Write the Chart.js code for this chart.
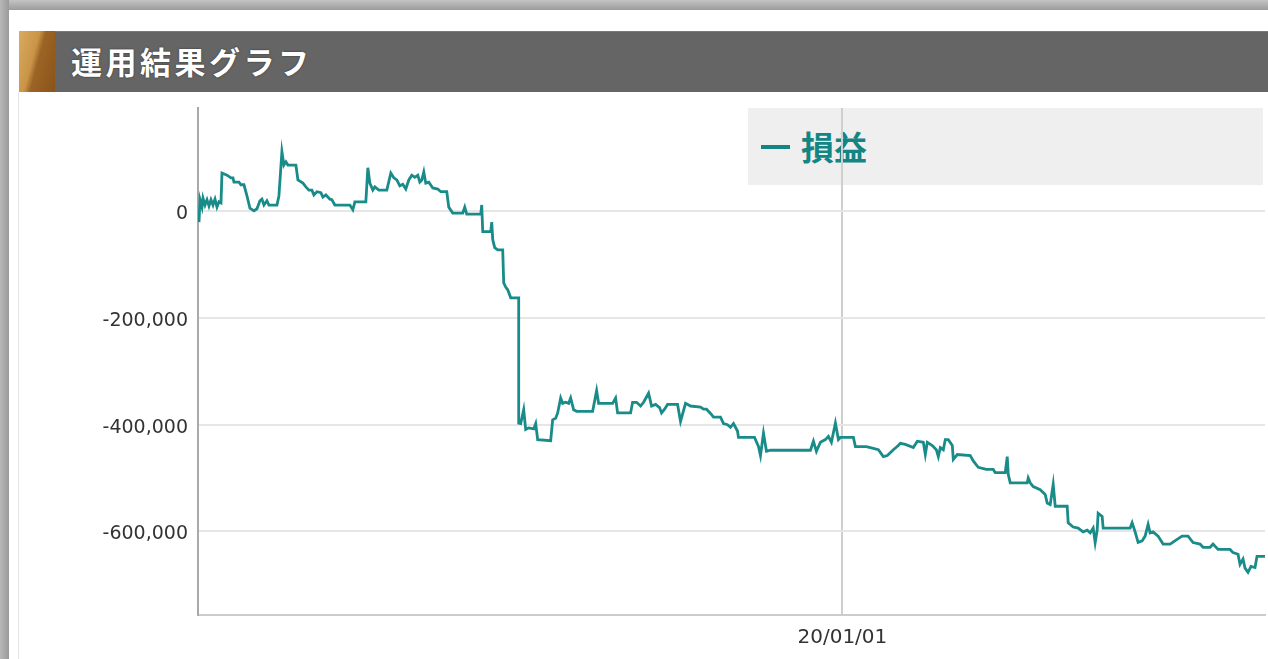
<!DOCTYPE html>
<html>
<head>
<meta charset="utf-8">
<script src="https://cdn.jsdelivr.net/npm/chart.js@4/dist/chart.umd.min.js"></script>
<style>
  html, body { margin: 0; padding: 0; }
  body { width: 1268px; height: 659px; overflow: hidden; position: relative; background: #ffffff; }
  #frameTop { position: absolute; left: 0; top: 0; width: 1268px; height: 10px; background: linear-gradient(#c4c4c4, #9c9c9c); }
  #frameLeft { position: absolute; left: 0; top: 0; width: 9px; height: 659px; background: linear-gradient(to right, #b8b8b8, #9a9a9a); }
  #cardLine { position: absolute; left: 18px; top: 92px; width: 1px; height: 567px; background: #e4e4e4; }
  #header { position: absolute; left: 19px; top: 31px; width: 1260px; height: 61px; background: #656565; border-top: 1px solid #7a7a7a; box-sizing: border-box; }
  #badge { position: absolute; left: 19px; top: 31px; width: 36px; height: 61px;
           background: linear-gradient(105deg, #d9ab62 0%, #c99447 40%, #9c6424 52%, #8a541a 100%); }
  #title { position: absolute; left: 71px; top: 31px; height: 61px; line-height: 59px; color: #ffffff;
           font-family: "Noto Sans CJK JP", sans-serif; font-weight: bold; font-size: 31px; letter-spacing: 3.5px;
           text-shadow: 0 0 2px rgba(0,0,0,0.6); }
  #legendBox { position: absolute; left: 748px; top: 108px; width: 515px; height: 77px; background: #efefef; z-index: 0; }
  #legendMark { position: absolute; left: 13px; top: 37px; width: 29px; height: 4px; background: #138585; }
  #legendText { position: absolute; left: 53px; top: 0; height: 77px; line-height: 76px; color: #138585;
                font-family: "Noto Sans CJK JP", sans-serif; font-weight: bold; font-size: 33px; }
  #wrap { position: absolute; left: 90px; top: 100px; width: 1178px; height: 559px; z-index: 1; }
</style>
</head>
<body>
<div id="frameTop"></div>
<div id="frameLeft"></div>
<div id="cardLine"></div>
<div id="header"></div>
<div id="badge"></div>
<div id="title">運用結果グラフ</div>
<div id="legendBox"><div id="legendMark"></div><div id="legendText">損益</div></div>
<div id="wrap"><canvas id="c" width="1178" height="559"></canvas></div>
<script>
// Data: time in days since 2019-01-01, profit/loss in thousands of yen
const seriesName = '損益';
const dayOffsets = [
  43, 43.5, 44.5, 45, 46, 47, 48, 49, 50, 51,
  52, 53, 54, 54.5, 57, 59, 60, 60.5, 63, 64,
  65.5, 67, 68.5, 70.5, 72, 73.5, 74.5, 75.5, 77, 78,
  82, 83, 84.5, 85.5, 86.5, 87.5, 91.5, 92.5, 95, 96.5,
  98, 99.5, 100.5, 102, 104, 105, 106.5, 108.5, 109.5, 111,
  118.5, 120, 121, 126.5, 127.5, 128.5, 130, 131, 133, 137,
  139, 140.5, 142, 143.5, 145, 146.5, 148, 149.5, 151, 152.5,
  153.5, 154.5, 155.5, 156.5, 158, 160, 162.5, 164, 167, 168,
  170, 175, 176, 177, 184, 184.5, 185, 189, 189.5, 190,
  191, 192.5, 195, 195.5, 196.5, 197.5, 199, 203, 203, 204,
  205.5, 206.5, 208, 210.5, 211.5, 212.5, 219, 220, 221.5, 222.5,
  224, 225, 226.5, 228, 229, 230.5, 232, 240, 242, 243,
  246.5, 250, 251.5, 252.5, 259, 260, 262, 264, 265.5, 268,
  269.5, 271.5, 273.5, 274.5, 276, 277.5, 282.5, 284, 286.5, 289,
  294, 295.5, 297, 299, 300.5, 303, 304, 305.5, 307.5, 309,
  310.5, 312.5, 313, 321, 323, 324, 325.5, 327, 329, 349,
  350.5, 352, 354, 356.5, 358, 359.5, 361.5, 363, 364, 370.5,
  371.5, 377, 379, 383, 385.5, 387.5, 390.5, 393, 394, 396.5,
  400.5, 402.5, 405.5, 406.5, 407.5, 410, 412, 413, 414, 415.5,
  416.5, 418, 420, 420.5, 422.5, 429, 430.5, 433, 437, 440.5,
  441.5, 446.5, 447.5, 448, 449, 457.5, 458, 459, 460.5, 464,
  466.5, 467.5, 469, 470.5, 471.5, 477.5, 478, 480.5, 483, 485.5,
  487.5, 489, 490.5, 491.5, 492.5, 493, 495, 495.5, 509, 510,
  511.5, 513, 515, 516.5, 518, 519, 520.5, 523, 525.5, 529,
  532.5, 535, 538, 540.5, 544, 545.5, 549, 550.5, 553, 559,
  560.5, 563, 564, 565.5, 566.5, 568, 569.5, 571.5, 572.5, 576.5
];
const pnlK = [
  -20, 22, 8, 25, 12, 22, 10, 22, 12, 23,
  8, 18, 16, 72, 68, 63, 63, 55, 55, 50,
  50, 29, 6, 1, 5, 20, 23, 12, 20, 12,
  12, 29, 112, 87, 93, 87, 87, 59, 53, 46,
  40, 40, 31, 37, 35, 27, 31, 23, 22, 12,
  12, 3, 18, 18, 82, 53, 40, 46, 40, 40,
  72, 63, 59, 48, 51, 42, 59, 68, 64, 68,
  55, 59, 74, 53, 55, 44, 42, 37, 37, 8,
  -3, -3, 8, -5, -5, 12, -38, -38, -20, -53,
  -68, -72, -72, -134, -142, -147, -162, -162, -397, -398,
  -372, -409, -406, -408, -398, -428, -430, -391, -388, -378,
  -350, -360, -358, -360, -350, -372, -375, -375, -336, -360,
  -360, -360, -350, -378, -378, -358, -358, -365, -358, -341,
  -365, -362, -368, -378, -371, -362, -362, -394, -360, -365,
  -367, -371, -371, -379, -386, -386, -386, -398, -400, -405,
  -398, -412, -424, -424, -441, -458, -416, -450, -448, -448,
  -431, -450, -433, -428, -422, -433, -397, -428, -424, -424,
  -441, -441, -443, -447, -460, -458, -447, -439, -435, -437,
  -443, -431, -433, -456, -433, -439, -447, -460, -443, -447,
  -428, -428, -439, -465, -456, -458, -468, -480, -484, -484,
  -490, -490, -460, -493, -509, -509, -500, -509, -516, -522,
  -531, -547, -550, -512, -553, -553, -584, -592, -594, -601,
  -598, -603, -594, -621, -598, -566, -572, -594, -594, -584,
  -601, -621, -618, -609, -587, -603, -601, -609, -624, -624,
  -615, -609, -609, -621, -624, -630, -630, -624, -634, -634,
  -640, -643, -662, -652, -669, -677, -666, -668, -647, -647
];
const xTickDays = [365];
const xTickLabels = ['20/01/01'];
const yTicks = [0, -200000, -400000, -600000];
const xRange = [42.5, 576.5];
const yRange = [-757000, 194000];

const points = dayOffsets.map((d, i) => ({ x: d, y: pnlK[i] * 1000 }));

new Chart(document.getElementById('c'), {
  type: 'line',
  data: {
    datasets: [{
      label: seriesName,
      data: points,
      borderColor: '#198b89',
      borderWidth: 2.8,
      pointRadius: 0,
      tension: 0,
      fill: false
    }]
  },
  options: {
    responsive: false,
    animation: false,
    events: [],
    layout: { padding: { top: 8, right: 3, left: 0, bottom: 0 } },
    plugins: { legend: { display: false }, tooltip: { enabled: false }, title: { display: false } },
    scales: {
      x: {
        type: 'linear',
        min: xRange[0], max: xRange[1],
        afterBuildTicks: (s) => { s.ticks = xTickDays.map(v => ({ value: v })); },
        afterFit: (s) => { s.height = 44; s.paddingLeft = 0; s.paddingRight = 0; },
        ticks: {
          padding: 11, color: '#333333', font: { family: 'DejaVu Sans', size: 20 }, maxRotation: 0, autoSkip: false,
          callback: (v) => { const i = xTickDays.indexOf(v); return i >= 0 ? xTickLabels[i] : ''; }
        },
        grid: { color: '#cfcfcf', lineWidth: 2, drawTicks: false },
        border: { display: true, color: '#cccccc', width: 2 }
      },
      y: {
        type: 'linear',
        min: yRange[0], max: yRange[1],
        afterBuildTicks: (s) => { s.ticks = yTicks.map(v => ({ value: v })); },
        afterFit: (s) => { s.width = 108; s.paddingTop = 0; s.paddingBottom = 0; },
        ticks: {
          padding: 10, labelOffset: 3, color: '#333333', font: { family: 'DejaVu Sans', size: 19 },
          callback: (v) => v.toLocaleString('en-US')
        },
        grid: { color: '#e6e6e6', lineWidth: 2, drawTicks: false },
        border: { display: true, color: '#a9a9a9', width: 2 }
      }
    }
  }
});
</script>
</body>
</html>
